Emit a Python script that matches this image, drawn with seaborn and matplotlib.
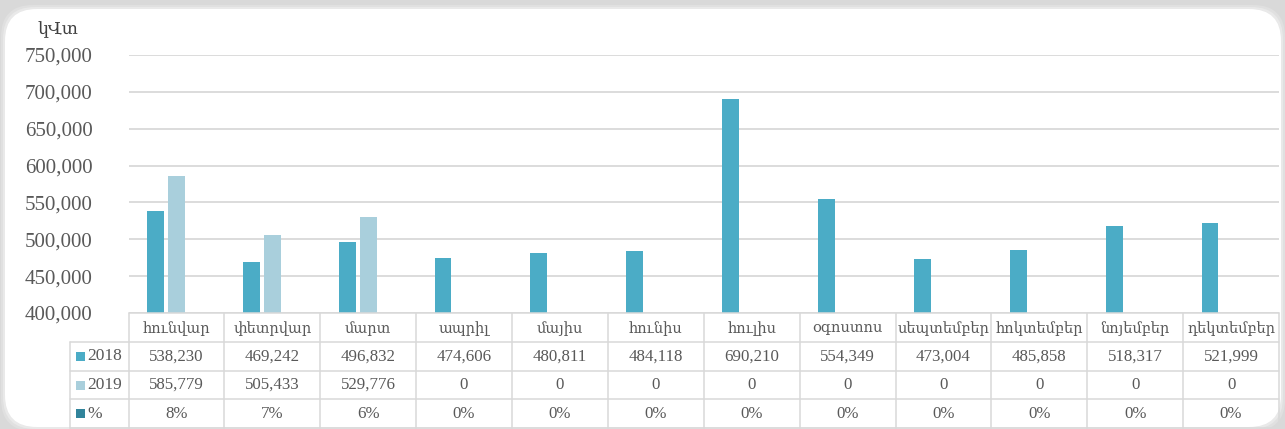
import matplotlib
matplotlib.use("Agg")
import matplotlib.pyplot as plt
import numpy as np
import pandas as pd
import seaborn as sns
from matplotlib.patches import FancyBboxPatch, Rectangle
from matplotlib.transforms import blended_transform_factory
from matplotlib.ticker import FuncFormatter

# Monthly electricity consumption, kWh
months = ["հունվար", "փետրվար", "մարտ", "ապրիլ", "մայիս", "հունիս",
          "հուլիս", "օգոստոս", "սեպտեմբեր", "հոկտեմբեր", "նոյեմբեր", "դեկտեմբեր"]
series_names = ["2018", "2019", "%"]
values_2018 = [538230, 469242, 496832, 474606, 480811, 484118,
               690210, 554349, 473004, 485858, 518317, 521999]
values_2019 = [585779, 505433, 529776, 0, 0, 0, 0, 0, 0, 0, 0, 0]
growth_pct = [8, 7, 6, 0, 0, 0, 0, 0, 0, 0, 0, 0]
unit_label = "կՎտ"
y_ticks = [400000, 450000, 500000, 550000, 600000, 650000, 700000, 750000]

colors = ["#4bacc6", "#a9cfdc", "#31849b"]
text_color = "#595959"
line_color = "#d9d9d9"

sns.set_theme(style="white")
plt.rcParams["font.family"] = ["Liberation Serif", "DejaVu Serif"]

W, H = 1285, 429
fig = plt.figure(figsize=(W / 100, H / 100), dpi=100)
fig.patch.set_facecolor("#d9d9d9")

# Background panel with rounded corners (pixel coordinates)
bg = fig.add_axes([0, 0, 1, 1], zorder=-5)
bg.set_xlim(0, W)
bg.set_ylim(H, 0)
bg.axis("off")
for off, col in [(4, "#e0e0e0"), (2, "#e9e9e9")]:
    bg.add_patch(FancyBboxPatch((5 - off, 9 - off), 1276 + 2 * off, 418 + 2 * off,
                                boxstyle="round,pad=0,rounding_size=32",
                                facecolor=col, edgecolor="none"))
bg.add_patch(FancyBboxPatch((5, 9), 1276, 418,
                            boxstyle="round,pad=0,rounding_size=32",
                            facecolor="white", edgecolor="none"))

def fy(py):
    return 1 - py / H

def fx(px):
    return px / W

ax_left, ax_right = 128.5, 1279
ax = fig.add_axes([fx(ax_left), fy(313), fx(ax_right) - fx(ax_left), fy(55) - fy(313)])
ax.patch.set_alpha(0)

df = pd.DataFrame({
    "month": months * 3,
    "series": [series_names[0]] * 12 + [series_names[1]] * 12 + [series_names[2]] * 12,
    "value": values_2018 + values_2019 + [p / 100 for p in growth_pct],
})

sns.barplot(data=df, x="month", y="value", hue="series", hue_order=series_names,
            palette=colors, saturation=1, width=0.66, gap=0.2, legend=False,
            edgecolor="none", ax=ax, zorder=3)

ax.set_ylim(400000, 750000)
ax.set_xlim(-0.5, len(months) - 0.5)
ax.set_yticks(y_ticks)
ax.yaxis.set_major_formatter(FuncFormatter(lambda v, p: f"{int(v):,}"))
ax.tick_params(axis="y", length=0, pad=26, labelsize=15, labelcolor=text_color)
ax.set_xticks([])
ax.set_xlabel("")
ax.set_ylabel("")
ax.yaxis.grid(True, color=line_color, linewidth=1.3, zorder=0)
ax.set_axisbelow(True)
for s in ax.spines.values():
    s.set_visible(False)

fig.text(fx(58), fy(30), unit_label, ha="center", va="center",
         fontsize=12.5, color="#404040")

# Data table under the plot
tr = blended_transform_factory(ax.transData, fig.transFigure)
row_edges = [313, 342, 371, 399, 428]
legend_left = 70
lw = 1.1

for py in row_edges:
    x0 = ax_left if py == row_edges[0] else legend_left
    fig.add_artist(plt.Line2D([fx(x0), fx(ax_right)], [fy(py), fy(py)],
                              color=line_color, lw=lw, transform=fig.transFigure))
for i in range(len(months) + 1):
    fig.add_artist(plt.Line2D([i - 0.5, i - 0.5], [fy(313), fy(428)],
                              color=line_color, lw=lw, transform=tr))
fig.add_artist(plt.Line2D([fx(legend_left), fx(legend_left)], [fy(342), fy(428)],
                          color=line_color, lw=lw, transform=fig.transFigure))

def fmt_num(v):
    return f"{v:,}"

rows = [
    [fmt_num(v) for v in values_2018],
    [fmt_num(v) for v in values_2019],
    [f"{p}%" for p in growth_pct],
]

for i, m in enumerate(months):
    ymid = fy((row_edges[0] + row_edges[1]) / 2 + 1)
    fig.text(i, ymid, m, transform=tr, ha="center", va="center",
             fontsize=10.5, color=text_color)
    for r in range(3):
        ymid = fy((row_edges[r + 1] + row_edges[r + 2]) / 2)
        fig.text(i, ymid, rows[r][i], transform=tr, ha="center", va="center",
                 fontsize=12.2, color=text_color)

for r, name in enumerate(series_names):
    ymid_px = (row_edges[r + 1] + row_edges[r + 2]) / 2
    fig.add_artist(Rectangle((fx(76), fy(ymid_px + 4.5)), fx(9), 9 / H,
                             facecolor=colors[r], edgecolor="none",
                             transform=fig.transFigure))
    fig.text(fx(87), fy(ymid_px), name, ha="left", va="center",
             fontsize=12.5, color=text_color)

fig.savefig("out.png", dpi=100, facecolor=fig.get_facecolor())
